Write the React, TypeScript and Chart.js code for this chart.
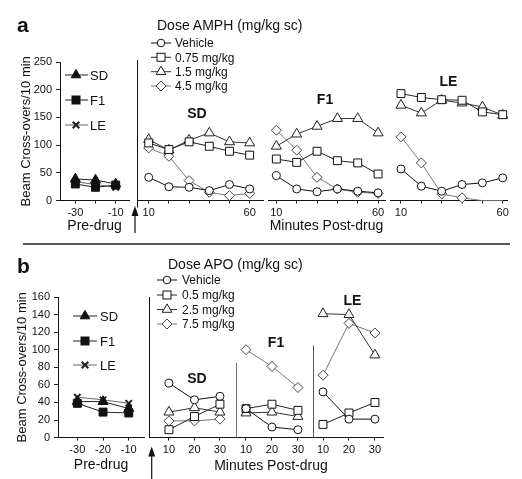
import React, { useEffect, useRef } from "react";
import { Chart, registerables } from "chart.js";

Chart.register(...registerables);

const FONT = '"Liberation Sans", Arial, Helvetica, sans-serif';
Chart.defaults.font.family = FONT;
Chart.defaults.color = "#111";

// ---------------- data ----------------
const preMinutes = [-30, -20, -10];
const postMinutesA = [10, 20, 30, 40, 50, 60];
const postMinutesB = [10, 20, 30];
const preLabelsA = [-30, -10];
const postLabelsA = [10, 60];
const preLabelsB = [-30, -20, -10];
const postLabelsB = [10, 20, 30];
const strainNames = ["SD", "F1", "LE"];
const doseTitleA = "Dose AMPH (mg/kg sc)";
const doseTitleB = "Dose APO (mg/kg sc)";
const doseNamesA = ["Vehicle", "0.75 mg/kg", "1.5 mg/kg", "4.5 mg/kg"];
const doseNamesB = ["Vehicle", "0.5 mg/kg", "2.5 mg/kg", "7.5 mg/kg"];
const yMaxA = 250;
const yStepA = 50;
const yMaxB = 160;
const yStepB = 20;
const yTitle = "Beam Cross-overs/10 min";
const preTitle = "Pre-drug";
const postTitle = "Minutes Post-drug";

// panel a — pre-drug (SD, F1, LE)
const preA_SD = [39, 37, 30];
const preA_F1 = [30, 24, 28];
const preA_LE = [34, 29, 24];
// panel a — post-drug SD
const sdA_vehicle = [42, 25, 24, 18, 29, 21];
const sdA_075 = [104, 92, 106, 98, 89, 82];
const sdA_15 = [110, 91, 109, 122, 106, 104];
const sdA_45 = [95, 80, 36, 15, 9, 13];
// panel a — post-drug F1
const f1A_vehicle = [45, 21, 16, 21, 17, 14];
const f1A_075 = [75, 69, 89, 72, 68, 48];
const f1A_15 = [98, 120, 134, 148, 148, 122];
const f1A_45 = [127, 91, 42, 21, 15, 13];
// panel a — post-drug LE
const leA_vehicle = [57, 26, 17, 29, 32, 41];
const leA_075 = [193, 186, 182, 181, 160, 155];
const leA_15 = [172, 158, 181, 176, 169, 154];
const leA_45 = [115, 68, 12, 5, 0, 0];

// panel b — pre-drug
const preB_SD = [41, 41, 33];
const preB_F1 = [39, 29, 28];
const preB_LE = [46, 43, 39];
// panel b — post-drug SD
const sdB_vehicle = [62, 43, 47];
const sdB_05 = [9, 24, 38];
const sdB_25 = [29, 34, 29];
const sdB_75 = [19, 19, 21];
// panel b — post-drug F1
const f1B_vehicle = [33, 12, 9];
const f1B_05 = [33, 38, 31];
const f1B_25 = [28, 29, 24];
const f1B_75 = [100, 81, 57];
// panel b — post-drug LE
const leB_vehicle = [52, 21, 21];
const leB_05 = [15, 28, 40];
const leB_25 = [141, 140, 94];
const leB_75 = [71, 130, 119];

// ---------------- styles ----------------
type Sty = { shape: string; color: string; line: string; r: number; filled?: boolean; bw?: number };
const doseStyle: Sty[] = [
  { shape: "circle", color: "#111", line: "#111", r: 4 },
  { shape: "rect", color: "#111", line: "#222", r: 5.6 },
  { shape: "triangle", color: "#222", line: "#333", r: 5.8 },
  { shape: "rectRot", color: "#444", line: "#777", r: 5 },
];
const strainStyle: Sty[] = [
  { shape: "triangle", color: "#111", line: "#222", r: 5.8, filled: true },
  { shape: "rect", color: "#111", line: "#222", r: 5.6, filled: true },
  { shape: "crossRot", color: "#222", line: "#666", r: 4.5, bw: 2 },
];

function makeSets(minutes: number[], series: number[][], styles: Sty[]) {
  return series.map((vals, i) => {
    const s = styles[i];
    return {
      data: minutes.map((m, k) => ({ x: m, y: vals[k] })),
      borderColor: s.line,
      borderWidth: 1,
      pointStyle: s.shape,
      pointRadius: (ctx: any) => (ctx.raw && ctx.raw.y === 0 ? 0 : s.r),
      pointBorderColor: s.color,
      pointBackgroundColor: s.filled ? s.color : "#fff",
      pointBorderWidth: s.bw ?? 1,
      clip: false as any,
      tension: 0,
    };
  });
}

const rulePlugin = {
  id: "leftRule",
  afterDraw(chart: any, _args: any, opts: any) {
    if (!opts || !opts.show) return;
    const { ctx, chartArea } = chart;
    const yScale = chart.scales.y;
    const top = opts.fromValue != null ? yScale.getPixelForValue(opts.fromValue) : chartArea.top - (opts.up || 0);
    const bottom = chartArea.bottom + (opts.down || 0);
    const x = Math.round(chartArea.left) + 0.5;
    ctx.save();
    ctx.strokeStyle = opts.color || "#111";
    ctx.lineWidth = opts.width || 1;
    ctx.beginPath();
    ctx.moveTo(x, top);
    ctx.lineTo(x, bottom);
    ctx.stroke();
    ctx.restore();
  },
};

type Spec = {
  plot: { l: number; t: number; r: number; b: number };
  xMin: number;
  xMax: number;
  xTicks: number[];
  xLabels: number[];
  yMax: number;
  yStep: number;
  showY?: boolean;
  yTitlePad?: number;
  xTitle?: string;
  axisH: number;
  side: number;
  sets: any[];
  rule?: any;
};

function SubChart({ spec }: { spec: Spec }) {
  const ref = useRef<HTMLCanvasElement>(null);
  const padT = 12;
  const padL = spec.showY ? 0 : spec.side;
  const yW = spec.showY ? spec.plot.l : 0;
  const left = spec.plot.l - padL - yW;
  const top = spec.plot.t - padT;
  const width = Math.ceil(spec.plot.r + spec.side - left);
  const height = Math.ceil(spec.plot.b + spec.axisH - top);

  useEffect(() => {
    if (!ref.current) return;
    const yTicks: number[] = [];
    for (let v = 0; v <= spec.yMax; v += spec.yStep) yTicks.push(v);
    const chart = new Chart(ref.current, {
      type: "line",
      data: { datasets: spec.sets },
      options: {
        animation: false,
        responsive: false,
        devicePixelRatio: 1,
        layout: { padding: { top: padT, left: padL, right: spec.side, bottom: 0 } },
        plugins: {
          legend: { display: false },
          tooltip: { enabled: false },
          leftRule: spec.rule || { show: false },
        } as any,
        scales: {
          x: {
            type: "linear",
            min: spec.xMin,
            max: spec.xMax,
            afterBuildTicks: (s: any) => {
              s.ticks = spec.xTicks.map((v) => ({ value: v }));
            },
            afterFit: (s: any) => {
              s.height = spec.axisH;
            },
            ticks: {
              autoSkip: false,
              maxRotation: 0,
              padding: 3,
              color: "#111",
              font: { size: 11, family: FONT },
              callback: (v: any) => (spec.xLabels.includes(Number(v)) ? String(v) : ""),
            },
            grid: { display: true, drawOnChartArea: false, tickLength: 3, color: "#222" },
            border: { display: true, color: "#111", width: 1 },
            title: {
              display: !!spec.xTitle,
              text: spec.xTitle || "",
              color: "#111",
              font: { size: 14, family: FONT },
              padding: { top: 0, bottom: 0 },
            },
          },
          y: {
            display: !!spec.showY,
            min: 0,
            max: spec.yMax,
            afterBuildTicks: (s: any) => {
              s.ticks = yTicks.map((v) => ({ value: v }));
            },
            afterFit: (s: any) => {
              if (spec.showY) s.width = yW;
            },
            ticks: { padding: 4, color: "#111", font: { size: 11, family: FONT } },
            grid: { display: true, drawOnChartArea: false, tickLength: 4, color: "#222" },
            border: { display: true, color: "#111", width: 1 },
            title: {
              display: !!spec.showY,
              text: yTitle,
              color: "#111",
              font: { size: 13, family: FONT },
              padding: { top: spec.yTitlePad || 4, bottom: 0 },
            },
          },
        },
      } as any,
      plugins: [rulePlugin as any],
    });
    return () => chart.destroy();
  }, []);

  return (
    <canvas
      ref={ref}
      width={width}
      height={height}
      style={{ position: "absolute", left, top, width, height, display: "block" }}
    />
  );
}

const AXIS_A = 34.4;
const AXIS_B = 36.4;

const specs: Spec[] = [
  // ---- panel a ----
  {
    plot: { l: 60, t: 62, r: 132, b: 200 },
    xMin: -37.6, xMax: -3.3, xTicks: preMinutes, xLabels: preLabelsA,
    yMax: yMaxA, yStep: yStepA, showY: true, yTitlePad: 19, xTitle: preTitle, axisH: AXIS_A, side: 4,
    sets: makeSets(preMinutes, [preA_SD, preA_F1, preA_LE], strainStyle),
  },
  {
    plot: { l: 137, t: 62, r: 263, b: 200 },
    xMin: 4.2, xMax: 66.6, xTicks: postMinutesA, xLabels: postLabelsA,
    yMax: yMaxA, yStep: yStepA, axisH: AXIS_A, side: 12,
    rule: { show: true, up: 2, down: 7, color: "#111" },
    sets: makeSets(postMinutesA, [sdA_vehicle, sdA_075, sdA_15, sdA_45], doseStyle),
  },
  {
    plot: { l: 268, t: 62, r: 385, b: 200 },
    xMin: 5.9, xMax: 63.4, xTicks: postMinutesA, xLabels: postLabelsA,
    yMax: yMaxA, yStep: yStepA, xTitle: postTitle, axisH: AXIS_A, side: 12,
    sets: makeSets(postMinutesA, [f1A_vehicle, f1A_075, f1A_15, f1A_45], doseStyle),
  },
  {
    plot: { l: 390, t: 62, r: 507, b: 200 },
    xMin: 4.6, xMax: 62.1, xTicks: postMinutesA, xLabels: postLabelsA,
    yMax: yMaxA, yStep: yStepA, axisH: AXIS_A, side: 12,
    sets: makeSets(postMinutesA, [leA_vehicle, leA_075, leA_15, leA_45], doseStyle),
  },
  // ---- panel b ----
  {
    plot: { l: 58, t: 296.5, r: 147, b: 437 },
    xMin: -37.5, xMax: -4, xTicks: preMinutes, xLabels: preLabelsB,
    yMax: yMaxB, yStep: yStepB, showY: true, yTitlePad: 15, xTitle: preTitle, axisH: AXIS_B, side: 4,
    sets: makeSets(preMinutes, [preB_SD, preB_F1, preB_LE], strainStyle),
  },
  {
    plot: { l: 149, t: 296.5, r: 236, b: 437 },
    xMin: 2.16, xMax: 36.3, xTicks: postMinutesB, xLabels: postLabelsB,
    yMax: yMaxB, yStep: yStepB, axisH: AXIS_B, side: 12,
    rule: { show: true, up: 0, down: 0, color: "#111" },
    sets: makeSets(postMinutesB, [sdB_vehicle, sdB_05, sdB_25, sdB_75], doseStyle),
  },
  {
    plot: { l: 236, t: 296.5, r: 313, b: 437 },
    xMin: 6.15, xMax: 35.8, xTicks: postMinutesB, xLabels: postLabelsB,
    yMax: yMaxB, yStep: yStepB, axisH: AXIS_B, side: 12,
    rule: { show: true, fromValue: 85, color: "#777" },
    sets: makeSets(postMinutesB, [f1B_vehicle, f1B_05, f1B_25, f1B_75], doseStyle),
  },
  {
    plot: { l: 313, t: 296.5, r: 383, b: 437 },
    xMin: 6.15, xMax: 33.1, xTicks: postMinutesB, xLabels: postLabelsB,
    yMax: yMaxB, yStep: yStepB, axisH: AXIS_B, side: 12,
    rule: { show: true, fromValue: 105, color: "#555" },
    sets: makeSets(postMinutesB, [leB_vehicle, leB_05, leB_25, leB_75], doseStyle),
  },
];

// ---------------- overlay (legends, labels) ----------------
function Marker({ s, x, y }: { s: Sty; x: number; y: number }) {
  const fill = s.filled ? s.color : "#fff";
  if (s.shape === "circle") return <circle cx={x} cy={y} r={3.8} fill={fill} stroke={s.color} strokeWidth={1} />;
  if (s.shape === "rect")
    return <rect x={x - 4} y={y - 4} width={8} height={8} fill={fill} stroke={s.color} strokeWidth={1} />;
  if (s.shape === "triangle") {
    const r = 5.6;
    const pts = `${x},${y - r} ${x + r * 0.866},${y + r * 0.5} ${x - r * 0.866},${y + r * 0.5}`;
    return <polygon points={pts} fill={fill} stroke={s.color} strokeWidth={1} />;
  }
  if (s.shape === "rectRot") {
    const r = 5;
    const pts = `${x},${y - r} ${x + r},${y} ${x},${y + r} ${x - r},${y}`;
    return <polygon points={pts} fill={fill} stroke={s.color} strokeWidth={1} />;
  }
  const d = 3.3;
  return (
    <g stroke={s.color} strokeWidth={2}>
      <line x1={x - d} y1={y - d} x2={x + d} y2={y + d} />
      <line x1={x - d} y1={y + d} x2={x + d} y2={y - d} />
    </g>
  );
}

function Legend({
  names, styles, rows, x1, x2, mx, tx, size,
}: { names: string[]; styles: Sty[]; rows: number[]; x1: number; x2: number; mx: number; tx: number; size: number }) {
  return (
    <g>
      {names.map((n, i) => (
        <g key={n}>
          <line x1={x1} x2={x2} y1={rows[i]} y2={rows[i]} stroke={styles[i].line} strokeWidth={1} />
          <Marker s={styles[i]} x={mx} y={rows[i]} />
          <text x={tx} y={rows[i] + size * 0.36} fontSize={size} fill="#111">
            {n}
          </text>
        </g>
      ))}
    </g>
  );
}

function Overlay() {
  const bold = { fontWeight: 700 as const };
  return (
    <svg
      width={522}
      height={479}
      style={{ position: "absolute", left: 0, top: 0, pointerEvents: "none" }}
      fontFamily={FONT}
    >
      <text x={17} y={32} fontSize={21} fill="#111" style={bold}>a</text>
      <text x={157} y={30} fontSize={14} fill="#111">{doseTitleA}</text>
      <Legend names={doseNamesA} styles={doseStyle} rows={[43, 57.3, 71.7, 86]} x1={151} x2={171} mx={161} tx={175} size={12} />
      <Legend names={strainNames} styles={strainStyle} rows={[75, 100, 125]} x1={65} x2={88} mx={76} tx={90} size={13} />
      <text x={197} y={118} fontSize={14} textAnchor="middle" fill="#111" style={bold}>SD</text>
      <text x={325} y={104} fontSize={14} textAnchor="middle" fill="#111" style={bold}>F1</text>
      <text x={448.5} y={86} fontSize={14} textAnchor="middle" fill="#111" style={bold}>LE</text>
      {/* arrow a */}
      <line x1={135} x2={135} y1={214} y2={233} stroke="#111" strokeWidth={1.2} />
      <polygon points="135,206 131.5,216 138.5,216" fill="#111" />
      {/* separator */}
      <line x1={23} x2={510} y1={244} y2={244} stroke="#222" strokeWidth={1.6} />

      <text x={17} y={273} fontSize={21} fill="#111" style={bold}>b</text>
      <text x={168} y={269} fontSize={14} fill="#111">{doseTitleB}</text>
      <Legend names={doseNamesB} styles={doseStyle} rows={[280, 295, 309.5, 324]} x1={157} x2={177} mx={167} tx={182} size={12} />
      <Legend names={strainNames} styles={strainStyle} rows={[316, 341, 365]} x1={73} x2={97} mx={85} tx={100} size={13} />
      <text x={197} y={383} fontSize={14} textAnchor="middle" fill="#111" style={bold}>SD</text>
      <text x={276} y={347} fontSize={14} textAnchor="middle" fill="#111" style={bold}>F1</text>
      <text x={352.5} y={305} fontSize={14} textAnchor="middle" fill="#111" style={bold}>LE</text>
      <text x={271} y={470} fontSize={14} textAnchor="middle" fill="#111">{postTitle}</text>
      {/* arrow b */}
      <line x1={151.7} x2={151.7} y1={455} y2={479} stroke="#111" strokeWidth={1.2} />
      <polygon points="151.7,446.5 148.2,456.5 155.2,456.5" fill="#111" />
    </svg>
  );
}

export default function App() {
  return (
    <div style={{ position: "absolute", left: 0, top: 0, width: 522, height: 479, background: "#fff", overflow: "hidden" }}>
      {specs.map((s, i) => (
        <SubChart key={i} spec={s} />
      ))}
      <Overlay />
    </div>
  );
}
